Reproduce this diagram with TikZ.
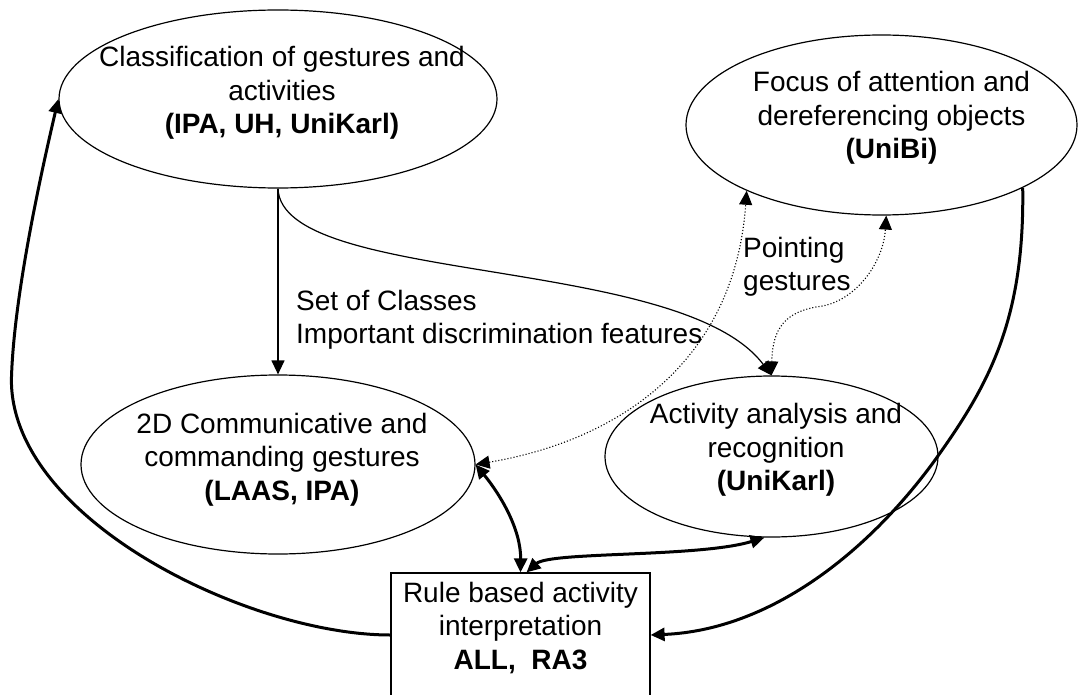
\documentclass[tikz,border=0pt]{standalone}
\usepackage{fontspec}
\setmainfont{Liberation Sans}
\usetikzlibrary{shapes.geometric,arrows.meta}
\begin{document}
\begin{tikzpicture}[x=1pt,y=-1pt,
  >={Triangle[length=14pt,width=13pt]},
  every node/.style={font=\fontsize{28}{33.5}\selectfont, inner sep=0pt},
  oval/.style={ellipse, draw, line width=1.2pt, inner sep=0pt},
  lbl/.style={align=center},
  lbleft/.style={align=left, anchor=north west},
  boxnode/.style={rectangle, draw, line width=1.2pt, inner sep=0pt},
  thinline/.style={line width=1.2pt},
  thickline/.style={line width=3pt},
  dotline/.style={line width=1.1pt, dash pattern=on 1.1pt off 2pt},
]
\useasboundingbox (0,0) rectangle (1078,695);

% nodes
\node[oval, minimum width=438, minimum height=178,
  label={[lbl,xshift=4pt,yshift=6pt]center:{Classification of gestures and\\activities\\\textbf{(IPA, UH, UniKarl)}}}]
  (cls) at (278,99) {};
\node[oval, minimum width=391, minimum height=180,
  label={[lbl,xshift=10pt,yshift=7pt]center:{Focus of attention and\\dereferencing objects\\\textbf{(UniBi)}}}]
  (focus) at (881.5,125) {};
\node[oval, minimum width=394, minimum height=179,
  label={[lbl,xshift=4pt,yshift=5pt]center:{2D Communicative and\\commanding gestures\\\textbf{(LAAS, IPA)}}}]
  (comm) at (278,464.5) {};
\node[oval, minimum width=333, minimum height=161,
  label={[lbl,xshift=4.5pt,yshift=6.5pt]center:{Activity analysis and\\recognition\\\textbf{(UniKarl)}}}]
  (act) at (771.5,456.5) {};
\node[boxnode, minimum width=259, minimum height=124,
  label={[lbl,yshift=7pt]center:{Rule based activity\\interpretation\\\textbf{ALL,~~RA3}}}]
  (rule) at (520.5,635) {};

% edge labels
\node[lbleft] (setcls) at (296,290) {Set of Classes\\Important discrimination features};
\node[lbleft] (pointg) at (743,237) {Pointing\\gestures};

% thin connectors
\draw[thinline,->] (cls.south) -- (comm.north);
\draw[thinline,->] (cls.south) .. controls +(4,97) and +(-91,-121) .. (act.north);

% dotted connectors
\draw[dotline,<->] (comm.east) .. controls +(145,-24.5) and +(-12,170) .. (focus.206);
\draw[dotline,<->] (act.north) .. controls +(1,-47) and +(-35,5) .. +(48.5,-69)
   .. controls +(35,-5) and +(-3,48) .. (focus.273);

% thick connectors
\draw[thickline,<->] (comm.east) .. controls +(25,30.5) and +(0.5,-43) .. (rule.north);
\draw[thickline,<->] ([xshift=6pt]rule.north) .. controls +(23.5,-21) and +(-65,20) .. (act.265);
\draw[thickline,->] (focus.336) .. controls +(2,134) and +(54,-75) .. +(-89,274)
   .. controls +(-66,90) and +(120,-5) .. (rule.east);
\draw[thickline,->] (rule.west) .. controls +(-141,0) and +(0,140) .. +(-379,-255)
   .. controls +(2,-80) and +(-19,81) .. (cls.west);
\end{tikzpicture}
\end{document}
